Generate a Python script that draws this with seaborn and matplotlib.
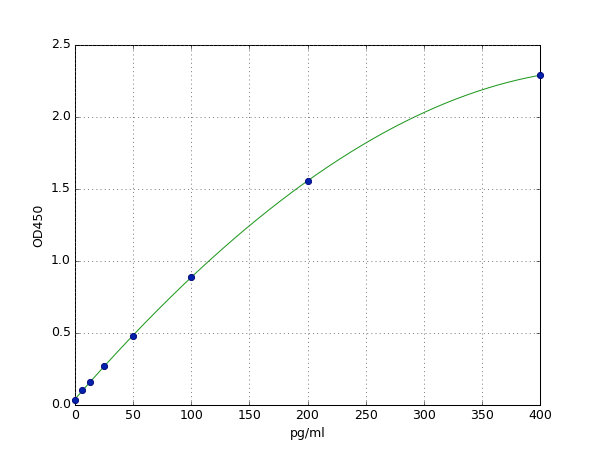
import numpy as np
import pandas as pd
import matplotlib
matplotlib.use("Agg")
import matplotlib.pyplot as plt
import seaborn as sns

conc = [0, 6.25, 12.5, 25, 50, 100, 200, 400]
od = [0.035, 0.104, 0.157, 0.270, 0.479, 0.889, 1.556, 2.290]

plt.style.use("classic")
plt.rcParams["font.family"] = ["DejaVu Sans"]

data = pd.DataFrame({"conc": conc, "od": od})

# smooth fitted curve through the standards
coef = np.polyfit(data["conc"], data["od"], 3)
xs = np.linspace(0, 400, 400)
fit = pd.DataFrame({"conc": xs, "od": np.polyval(coef, xs)})

fig, ax = plt.subplots(figsize=(8, 6), dpi=75)
sns.lineplot(x="conc", y="od", data=fit, color="#229922", linewidth=1, ax=ax)
sns.scatterplot(x="conc", y="od", data=data, color="#0022aa", edgecolor="#000077",
                s=36, linewidth=0.8, zorder=3, clip_on=False, ax=ax)

ax.set_xlim(0, 400)
ax.set_ylim(0, 2.5)
ax.set_xticks(range(0, 401, 50))
ax.set_yticks(np.arange(0, 2.51, 0.5))
ax.grid(True, linestyle=":", color="#555555", linewidth=0.7)
ax.set_xlabel("pg/ml", fontsize=12)
ax.set_ylabel("OD450", fontsize=12)
ax.tick_params(labelsize=12)
fig.subplots_adjust(left=0.125, right=0.9, bottom=0.1, top=0.9)
fig.savefig("out.png", dpi=75)
